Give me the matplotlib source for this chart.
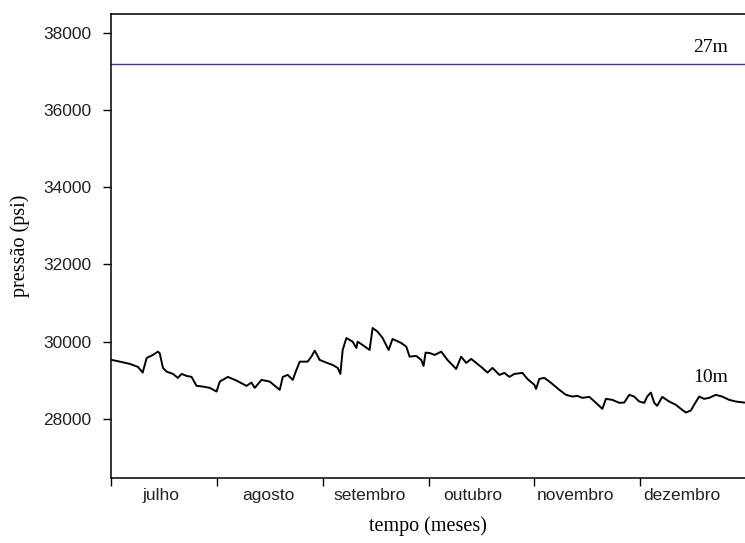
import matplotlib
matplotlib.use('Agg')
import matplotlib.pyplot as plt

# pressure at 10m (traced), x in months from start of july
meses_x = [0.007, 0.085, 0.179, 0.255, 0.299, 0.337, 0.396, 0.443, 0.46, 0.491,
           0.525, 0.585, 0.632, 0.667, 0.714, 0.761, 0.808, 0.868, 0.934, 0.997,
           1.028, 1.104, 1.186, 1.280, 1.327, 1.358, 1.422, 1.5, 1.594, 1.623,
           1.670, 1.717, 1.752, 1.783, 1.858, 1.893, 1.925, 1.972, 2.035, 2.094,
           2.142, 2.167, 2.189, 2.224, 2.283, 2.318, 2.330, 2.377, 2.443, 2.472,
           2.519, 2.566, 2.623, 2.660, 2.742, 2.790, 2.821, 2.884, 2.931, 2.953,
           2.972, 3.009, 3.057, 3.120, 3.179, 3.261, 3.308, 3.356, 3.403, 3.450,
           3.509, 3.557, 3.604, 3.670, 3.717, 3.764, 3.811, 3.887, 3.934, 4.0,
           4.016, 4.047, 4.094, 4.158, 4.236, 4.299, 4.358, 4.406, 4.453, 4.519,
           4.582, 4.642, 4.676, 4.736, 4.802, 4.849, 4.896, 4.943, 4.991, 5.038,
           5.066, 5.101, 5.132, 5.160, 5.208, 5.274, 5.337, 5.396, 5.431, 5.478,
           5.509, 5.557, 5.604, 5.651, 5.714, 5.774, 5.840, 5.903, 5.981]
pressao_10m = [29526, 29482, 29423, 29345, 29198, 29578, 29656, 29741, 29700, 29319,
               29224, 29164, 29061, 29164, 29112, 29087, 28854, 28836, 28802, 28706,
               28965, 29087, 28991, 28854, 28939, 28802, 29009, 28965, 28750, 29087,
               29138, 29009, 29268, 29482, 29482, 29612, 29767, 29526, 29456, 29397,
               29319, 29164, 29785, 30095, 29999, 29837, 29999, 29914, 29785, 30354,
               30258, 30095, 29785, 30069, 29966, 29870, 29612, 29630, 29526, 29371,
               29715, 29707, 29656, 29741, 29526, 29293, 29612, 29449, 29552, 29449,
               29319, 29198, 29319, 29138, 29190, 29087, 29164, 29190, 29035, 28880,
               28776, 29035, 29061, 28931, 28750, 28621, 28577, 28595, 28543, 28569,
               28414, 28259, 28517, 28492, 28414, 28422, 28621, 28577, 28448, 28414,
               28577, 28680, 28414, 28336, 28569, 28448, 28362, 28233, 28163, 28215,
               28362, 28577, 28517, 28543, 28621, 28577, 28492, 28448, 28422]

# pressure at 27m (constant)
pressao_27m = 37200

meses = ['julho', 'agosto', 'setembro', 'outubro', 'novembro', 'dezembro']
meses_pos = [0.47, 1.49, 2.44, 3.42, 4.39, 5.39]
yticks = [28000, 30000, 32000, 34000, 36000, 38000]

sans = ['Liberation Sans Narrow', 'Liberation Sans', 'DejaVu Sans']
serif = ['Liberation Serif', 'DejaVu Serif']

fig = plt.figure(figsize=(7.45, 5.43), dpi=100)
ax = fig.add_axes([0.149, 0.12, 0.851, 0.854])

ax.plot(meses_x, pressao_10m, color='black', lw=1.4)
ax.axhline(pressao_27m, color='#3a3aa8', lw=1.0)

ax.set_xlim(0, 5.99)
ax.set_ylim(26470, 38490)

ax.spines['right'].set_visible(False)
for s in ['left', 'top', 'bottom']:
    ax.spines[s].set_linewidth(1.1)

ax.set_yticks(yticks)
ax.set_yticklabels([str(v) for v in yticks], family=sans, fontsize=12.5,
                   color='#222222')
ax.tick_params(axis='y', length=6, width=1, pad=8)

ax.set_xticks(range(6))
ax.set_xticklabels([])
ax.tick_params(axis='x', length=6, width=1)
ax.set_xticks(meses_pos, minor=True)
ax.set_xticklabels(meses, minor=True, family=sans, fontsize=12.5, color='#222222')
ax.tick_params(axis='x', which='minor', length=0, pad=7)

ax.set_xlabel('tempo (meses)', family=serif, fontsize=14.5, labelpad=10)
ax.set_ylabel('pressão (psi)', family=serif, fontsize=14.5, labelpad=10)

ax.text(5.66, 37612, '27m', family=serif, fontsize=14, ha='center', va='center')
ax.text(5.67, 29061, '10m', family=serif, fontsize=14, ha='center', va='center')

fig.savefig('out.png', dpi=100)
